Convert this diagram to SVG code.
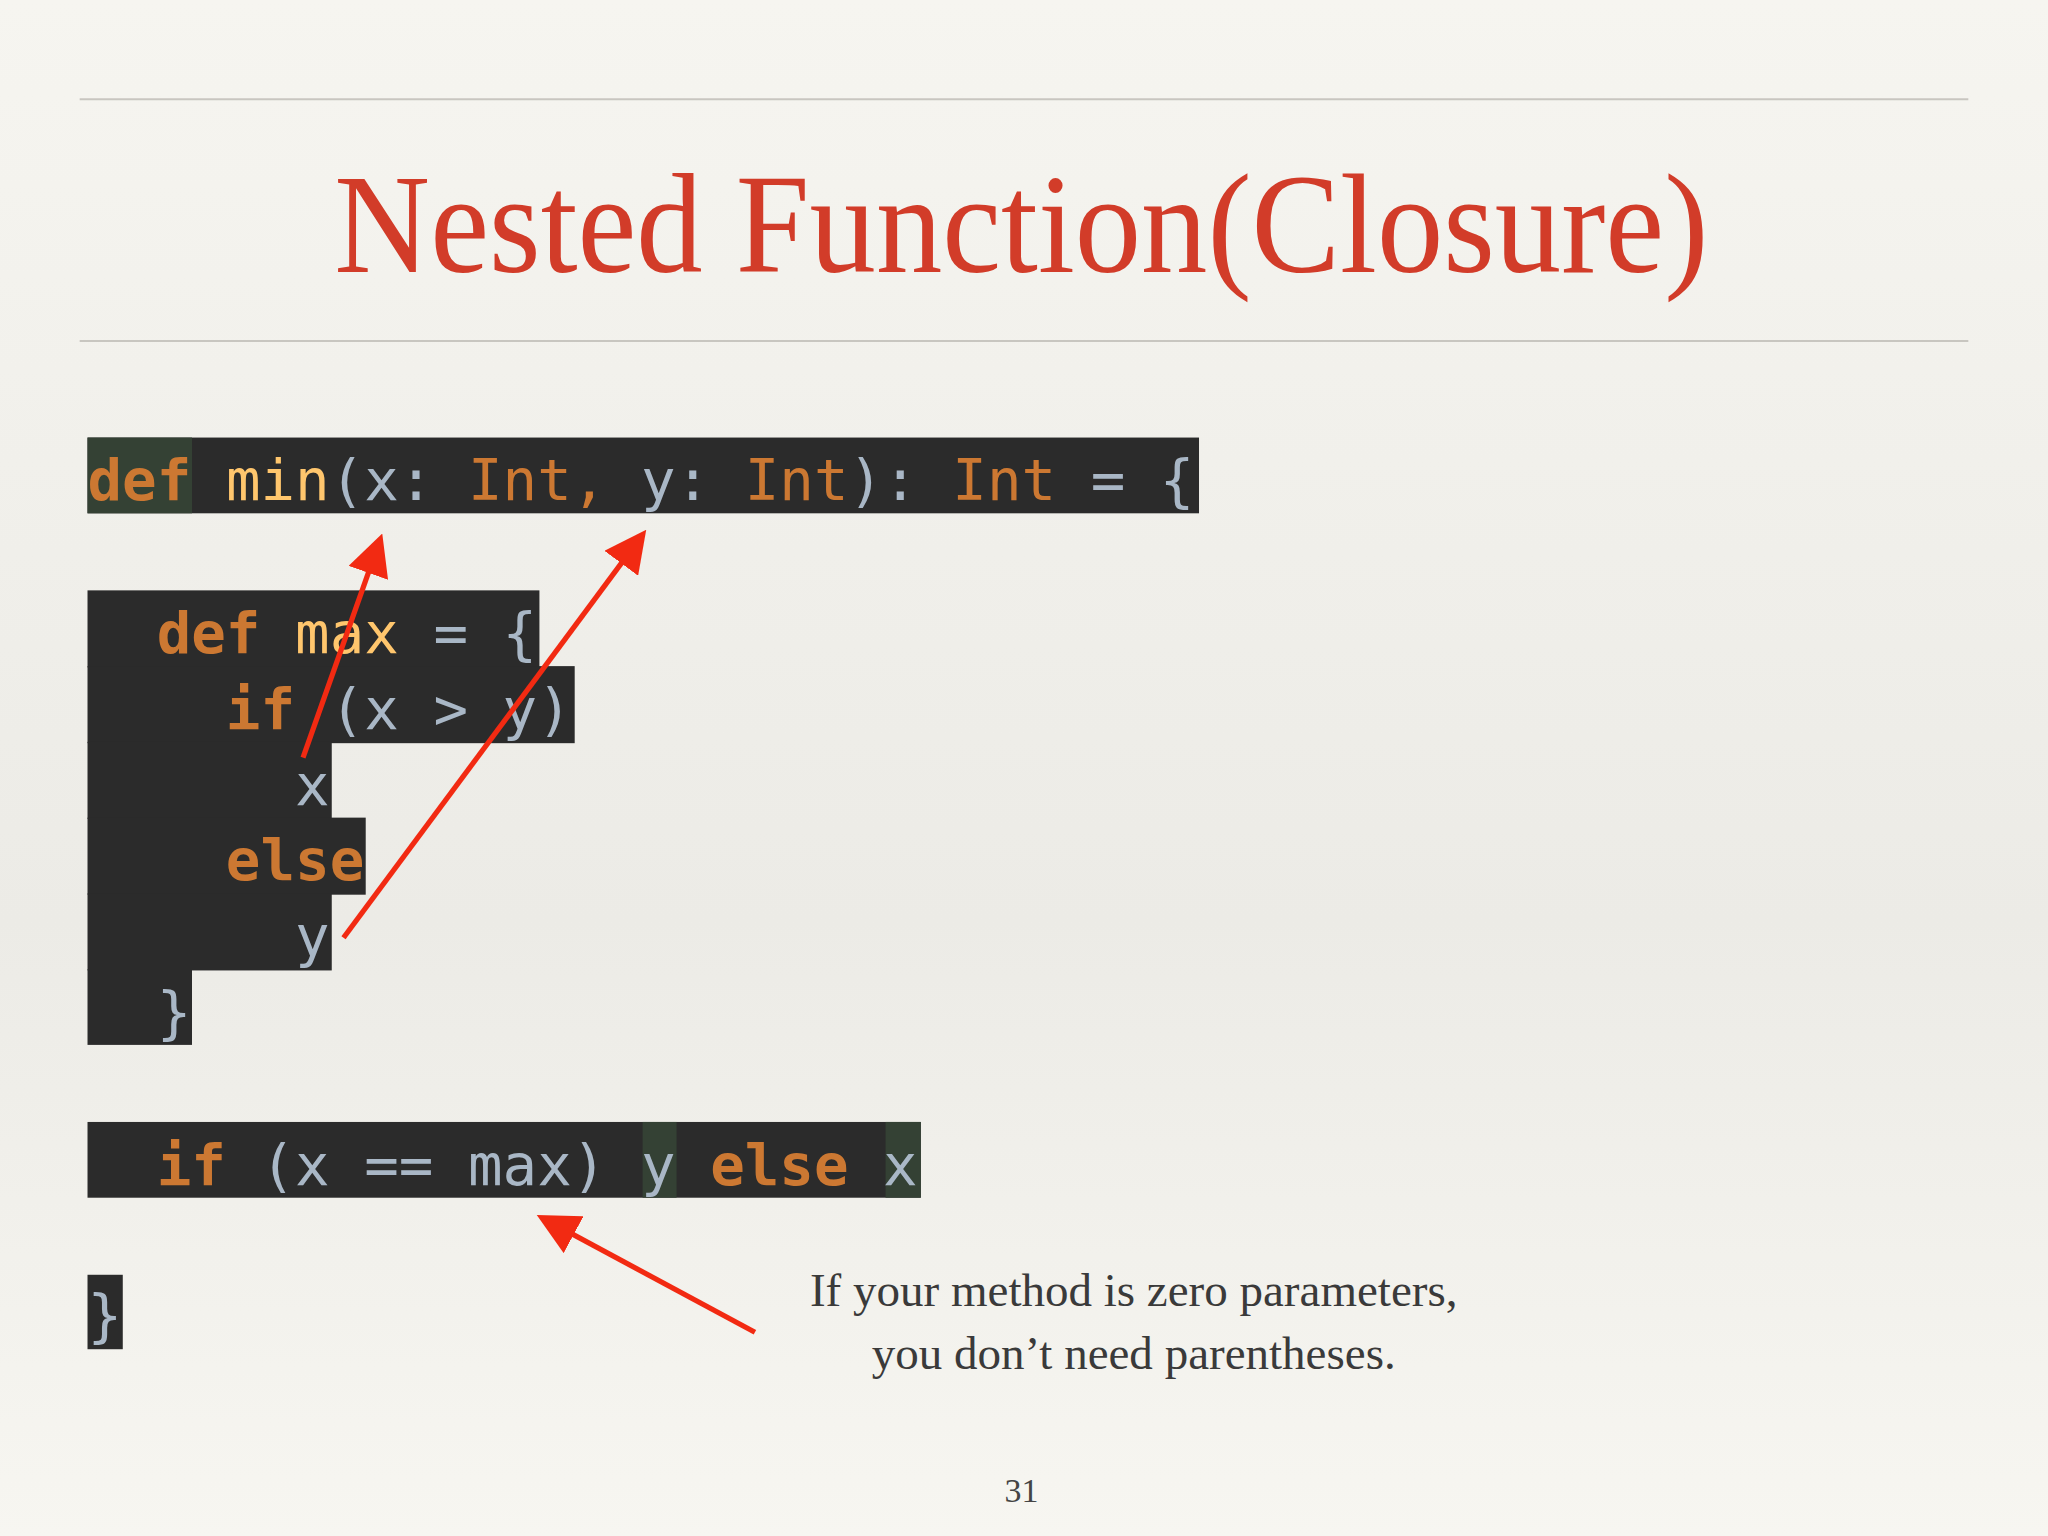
<svg xmlns="http://www.w3.org/2000/svg" width="2048" height="1536" viewBox="0 0 2048 1536">
<defs>
<linearGradient id="bg" x1="0" y1="0" x2="0" y2="1">
<stop offset="0" stop-color="#f6f5f0"/><stop offset="0.6" stop-color="#ecebe6"/><stop offset="1" stop-color="#f7f6f1"/>
</linearGradient>
<marker id="ah" markerWidth="8" markerHeight="8" refX="6" refY="4" orient="auto" markerUnits="strokeWidth">
<path d="M0,0 L8,4 L0,8 z" fill="#f22a12"/>
</marker>
<style>
.code{font-family:"DejaVu Sans Mono","Liberation Mono",monospace;font-size:44px;fill:#a9b7c6}
.kw{fill:#cc7832;font-weight:bold}
.ty{fill:#cc7832}
.fn{fill:#ffc66d}
.bg{fill:#2b2b2b}
.hl{fill:#344134}
.arr{stroke:#f22a12;stroke-width:4;fill:none;marker-end:url(#ah)}
</style>
</defs>
<rect width="2048" height="1536" fill="url(#bg)"/>
<g transform="scale(1.30612)">
<g id="title">
<line x1="61" y1="76" x2="1507" y2="76" stroke="#c8c6c0" stroke-width="1.5"/>
<text x="782" y="208" text-anchor="middle" font-family="Liberation Serif,serif" font-size="108" fill="#d23c29" textLength="1052" lengthAdjust="spacingAndGlyphs">Nested Function(Closure)</text>
<line x1="61" y1="261" x2="1507" y2="261" stroke="#c8c6c0" stroke-width="1.5"/>
</g>
<g id="code1">
<rect class="bg" x="67" y="335" width="851" height="58"/>
<rect class="hl" x="67" y="335" width="80" height="58"/>
<text class="code" x="67" y="383" xml:space="preserve"><tspan class="kw">def</tspan> <tspan class="fn">min</tspan>(x: <tspan class="ty">Int</tspan><tspan class="ty">,</tspan> y: <tspan class="ty">Int</tspan>): <tspan class="ty">Int</tspan> = {</text>
</g>
<g id="code2">
<rect class="bg" x="67" y="452" width="346" height="59"/>
<rect class="bg" x="67" y="510" width="373" height="59"/>
<rect class="bg" x="67" y="568" width="187" height="59"/>
<rect class="bg" x="67" y="626" width="213" height="59"/>
<rect class="bg" x="67" y="684" width="187" height="59"/>
<rect class="bg" x="67" y="742" width="80" height="58"/>
<text class="code" x="67" y="500" xml:space="preserve">  <tspan class="kw">def</tspan> <tspan class="fn">max</tspan> = {</text>
<text class="code" x="67" y="558" xml:space="preserve">    <tspan class="kw">if</tspan> (x &gt; y)</text>
<text class="code" x="67" y="616" xml:space="preserve">      x</text>
<text class="code" x="67" y="674" xml:space="preserve">    <tspan class="kw">else</tspan></text>
<text class="code" x="67" y="732" xml:space="preserve">      y</text>
<text class="code" x="67" y="790" xml:space="preserve">  }</text>
</g>
<g id="code3">
<rect class="bg" x="67" y="859" width="638" height="58"/>
<rect class="hl" x="492" y="859" width="26" height="58"/>
<rect class="hl" x="678" y="859" width="27" height="58"/>
<text class="code" x="67" y="907" xml:space="preserve">  <tspan class="kw">if</tspan> (x == max) y <tspan class="kw">else</tspan> x</text>
</g>
<g id="code4">
<rect class="bg" x="67" y="976" width="27" height="57"/>
<text class="code" x="67" y="1022">}</text>
</g>
<g id="note">
<text x="868" y="1000" text-anchor="middle" font-family="Liberation Serif,serif" font-size="36" fill="#3a3a3a">If your method is zero parameters,</text>
<text x="868" y="1048" text-anchor="middle" font-family="Liberation Serif,serif" font-size="36" fill="#3a3a3a">you don’t need parentheses.</text>
</g>
<text x="782" y="1150" text-anchor="middle" font-family="Liberation Serif,serif" font-size="26" fill="#444">31</text>
<g id="connectors">
<line class="arr" x1="232" y1="580" x2="290" y2="416"/>
<line class="arr" x1="263" y1="718" x2="490" y2="412"/>
<line class="arr" x1="578" y1="1020" x2="418" y2="934"/>
</g>
</g>
</svg>
